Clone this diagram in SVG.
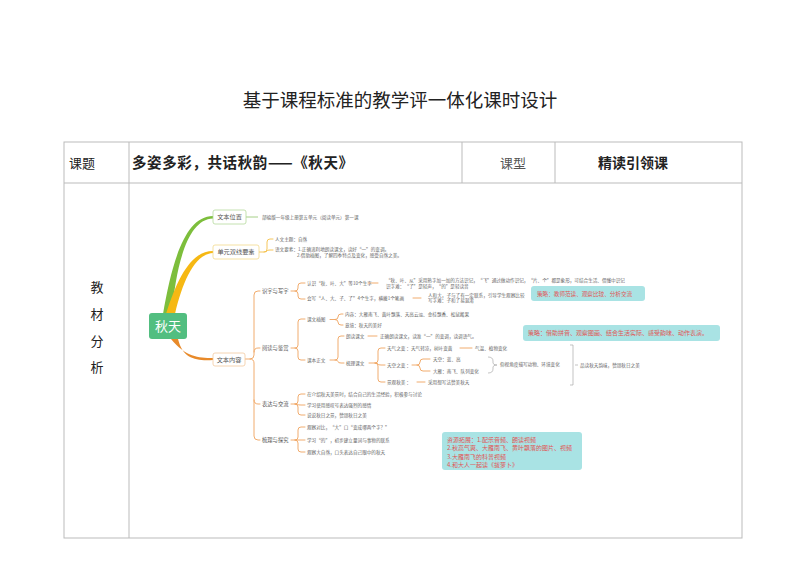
<svg xmlns="http://www.w3.org/2000/svg" width="800" height="566" viewBox="0 0 800 566">
<style>
text{font-family:"Noto Sans CJK SC","Noto Sans",sans-serif}
.t{font-size:4.6px;fill:#666}
.lab{font-size:5.3px;fill:#555}
.nb{font-size:6.2px;fill:#555;text-anchor:middle}
.br{fill:none;stroke:#EFA35E;stroke-width:0.9;stroke-linecap:round}
.gr{fill:none;stroke:#aaa;stroke-width:0.7}
.st{fill:#A9E3E4}
.sr{fill:#E05555;font-size:5.6px}
.tbl{stroke:#bbb;stroke-width:1;fill:none}
</style>
<rect width="800" height="566" fill="#fff"/>
<text x="400" y="107" font-size="18.5" text-anchor="middle" fill="#222">基于课程标准的教学评一体化课时设计</text>
<g id="table">
<rect class="tbl" x="64" y="142" width="678" height="396"/>
<line class="tbl" x1="64" y1="183" x2="742" y2="183"/>
<line class="tbl" x1="129" y1="142" x2="129" y2="538"/>
<line class="tbl" x1="462" y1="142" x2="462" y2="183"/>
<line class="tbl" x1="555" y1="142" x2="555" y2="183"/>
<text x="69" y="168" font-size="13" fill="#222">课题</text>
<text x="132" y="168" font-size="14.5" font-weight="bold" letter-spacing="0.6" fill="#222">多姿多彩，共话秋韵——《秋天》</text>
<text x="513" y="168" font-size="13" fill="#555" text-anchor="middle">课型</text>
<text x="633" y="168" font-size="14" font-weight="bold" fill="#222" text-anchor="middle">精读引领课</text>
<g font-size="13" fill="#222" text-anchor="middle">
<text x="97" y="292">教</text><text x="97" y="319">材</text><text x="97" y="346">分</text><text x="97" y="372">析</text>
</g>
</g>
<g id="connectors">
<path d="M163,314 C172,262 185,216 213,216 L213,218.5 C188,219 176,264 172,314 Z" fill="#7DBE3C"/>
<path d="M166,314 C178,276 192,251 213,251 L213,253 C195,254 183,280 175,314 Z" fill="#F6B813"/>
<path d="M171,339 C186,357 198,358 213,358 L213,360 C196,361 183,359 178,339 Z" fill="#E88A2A"/>
<line x1="246" y1="217" x2="258" y2="217" stroke="#9CCB7A" stroke-width="0.9"/>
<path class="br" style="stroke:#F4C04A" d="M259,252 L264,252 Q267,252 267,249 L267,242 Q267,239 270,239 L273,239 M264,252 Q267,252 267,251 Q267,250 270,250 L273,250"/>
<path class="br" d="M245,359 L250,359 Q254,359 254,355 L254,295 Q254,291 258,291 L260,291 M254,352 Q254,348 258,348 L260,348 M250,359 Q254,359 254,363 L254,436 Q254,440 258,440 L260,440 M254,400 Q254,404 258,404 L260,404"/>
<path class="br" d="M291,291 L295,291 Q298,291 298,288 L298,286 Q298,283 301,283 L305,283 M295,291 Q298,291 298,294 L298,296 Q298,299 301,299 L305,299"/>
<path class="br" d="M368,283 L378,283 M413,298 L421,298"/>
<path class="br" d="M291,348 L295,348 Q298,348 298,345 L298,322 Q298,319 301,319 L305,319 M295,348 Q298,348 298,351 L298,357 Q298,360 301,360 L305,360"/>
<path class="br" d="M330,319.5 L335,319.5 Q338,319.5 338,317 Q338,314 341,314 L343,314 M335,319.5 Q338,319.5 338,322 Q338,325 341,325 L343,325"/>
<path class="br" d="M330,360 L335,360 Q338,360 338,357 L338,339 Q338,336 341,336 L344,336 M335,360 Q338,360 338,361.5 Q338,363 341,363 L344,363"/>
<path class="br" d="M368,336 L377,336"/>
<path class="br" d="M369,363 L375,363 Q378,363 378,360 L378,351 Q378,348 381,348 L385,348 M375,363 Q378,363 378,364 Q378,365 381,365 L385,365 M375,363 Q378,363 378,366 L378,379 Q378,382 381,382 L385,382"/>
<path class="br" d="M460,348 L472,348 M417,382 L425,382"/>
<path class="br" d="M412,365 L417,365 Q420,365 420,362 Q420,359 423,359 L430,359 M417,365 Q420,365 420,368 Q420,371 423,371 L430,371"/>
<path class="gr" d="M488,357 Q493,357 493,361 L493,363 Q493,365 497,365 Q493,365 493,367 L493,369 Q493,373 488,373"/>
<path class="gr" d="M570,345 L573,345 L573,385 L570,385 M575,365 L578,365"/>
<path class="br" d="M291,404 L295,404 Q298,404 298,401 L298,397 Q298,394 301,394 L305,394 M295,404 Q298,404 298,404.5 Q298,405 301,405 L305,405 M295,404 Q298,404 298,407 L298,412 Q298,415 301,415 L305,415"/>
<path class="br" d="M291,440 L295,440 Q298,440 298,437 L298,430 Q298,427 301,427 L305,427 M295,440 L305,440 M295,440 Q298,440 298,443 L298,449 Q298,452 301,452 L305,452"/>
</g>
<g id="n-center">
<rect x="149" y="313" width="38" height="26" rx="3" fill="#52BE80"/>
<text x="168" y="330.5" font-size="13" fill="#fff" text-anchor="middle">秋天</text>
</g>
<g id="n-wbwz">
<rect x="213" y="210" width="33" height="14" rx="2" fill="#fff" stroke="#B5D99C" stroke-width="0.8"/>
<text class="nb" x="229.5" y="219.2">文本位置</text>
<text class="t" x="262" y="218.7">部编版一年级上册第五单元（阅读单元）第一课</text>
</g>
<g id="n-dyys">
<rect x="213" y="245" width="46" height="14" rx="2" fill="#fff" stroke="#F3D98A" stroke-width="0.8"/>
<text class="nb" x="236" y="254.2">单元双线要素</text>
<text class="t" x="275" y="240.7">人文主题：自然</text>
<text class="t" x="275" y="251.2">语文要素：1.正确流利地朗读课文，读好“一”的变调。</text>
<text class="t" x="297" y="257.2">2.借助插图，了解四季特点及变化，感受自然之美。</text>
</g>
<g id="n-wbnr">
<rect x="213" y="353" width="32" height="13" rx="2" fill="#fff" stroke="#F3C9A0" stroke-width="0.8"/>
<text class="nb" x="229" y="361.7">文本内容</text>
</g>
<g id="n-sz">
<text class="lab" x="262" y="292.9">识字与写字</text>
<text class="t" x="307" y="284.7">认识“秋、叶、大”等10个生字</text>
<text class="t" x="386" y="281.7">“秋、叶、从”采用熟字加一加的方法识记，“飞”通过做动作识记，“片、个”都是象形，可结合生活、借懂中识记</text>
<text class="t" x="386" y="287.7">识字难：“了”是轻声，“的”是轻读音</text>
<text class="t" x="307" y="300.2">会写“人、大、子、了”4个生字，横撇1个笔画</text>
<text class="t" x="428" y="296.7">人和大，子与了有一定联系，引导学生观察比较</text>
<text class="t" x="428" y="302.2">写字难：子和了易混淆</text>
</g>
<g id="n-yd">
<text class="lab" x="262" y="349.9">阅读与鉴赏</text>
<text class="t" x="307" y="321.2">课文插图</text>
<text class="t" x="345" y="315.7">内容：大雁南飞、黄叶飘落、天高云淡、金桂飘香、松鼠搬果</text>
<text class="t" x="345" y="326.7">意境：秋天的美好</text>
<text class="t" x="307" y="361.7">课本正文</text>
<text class="t" x="346" y="337.7">朗读课文</text>
<text class="t" x="380" y="337.7">正确朗读课文，读准“一”的变调，读调语气。</text>
<text class="t" x="346" y="364.7">梳理课文</text>
<text class="t" x="387" y="349.7">天气之变 ：天气转凉，树叶变黄</text>
<text class="t" x="475" y="349.7">气温、植物变化</text>
<text class="t" x="387" y="366.7">天空之变 ：</text>
<text class="t" x="433" y="360.7">天空：蓝、高</text>
<text class="t" x="433" y="372.7">大雁：南飞、队列变化</text>
<text class="t" x="500" y="365.7">仰视角度描写动物、环境变化</text>
<text class="t" x="387" y="383.7">景观秋美 ：</text>
<text class="t" x="428" y="383.7">采用想写法赞美秋天</text>
<text class="t" x="580" y="366.7">品读秋天韵味，赞颂秋日之美</text>
</g>
<g id="n-bd">
<text class="lab" x="262" y="405.9">表达与交流</text>
<text class="t" x="307" y="395.7">在介绍秋天美景时，结合自己的生活经验，积极参与讨论</text>
<text class="t" x="307" y="406.7">学习使用感叹号表达强烈的感情</text>
<text class="t" x="307" y="416.7">说说秋日之景，赞颂秋日之美</text>
</g>
<g id="n-sl">
<text class="lab" x="262" y="441.9">梳理与探究</text>
<text class="t" x="307" y="428.7">观察对比，“大”口“变成哪两个字？”</text>
<text class="t" x="307" y="441.7">学习“的”，初步建立量词与事物的联系</text>
<text class="t" x="307" y="453.7">观察大自然，口头表达自己眼中的秋天</text>
</g>
<g id="n-cl1">
<rect class="st" x="531" y="286" width="114" height="15" rx="3"/>
<text class="sr" x="537" y="295.5">策略：教师范读、观察比较、分析交流</text>
</g>
<g id="n-cl2">
<rect class="st" x="523" y="325" width="197" height="16" rx="3"/>
<text class="sr" x="528" y="335" style="font-size:6px">策略：借助拼音、观察图画、结合生活实际、感受韵味、动作表演。</text>
</g>
<g id="n-zy">
<rect class="st" x="442" y="432" width="140" height="38" rx="3"/>
<g class="sr" style="font-size:6px">
<text x="447" y="441.5">资源拓展：1.配乐音频、朗读视频</text>
<text x="447" y="450">2.秋高气爽、大雁南飞、黄叶飘落的图片、视频</text>
<text x="447" y="458.5">3.大雁南飞的科普视频</text>
<text x="447" y="466.5">4.和大人一起读《拔萝卜》</text>
</g>
</g>
</svg>
